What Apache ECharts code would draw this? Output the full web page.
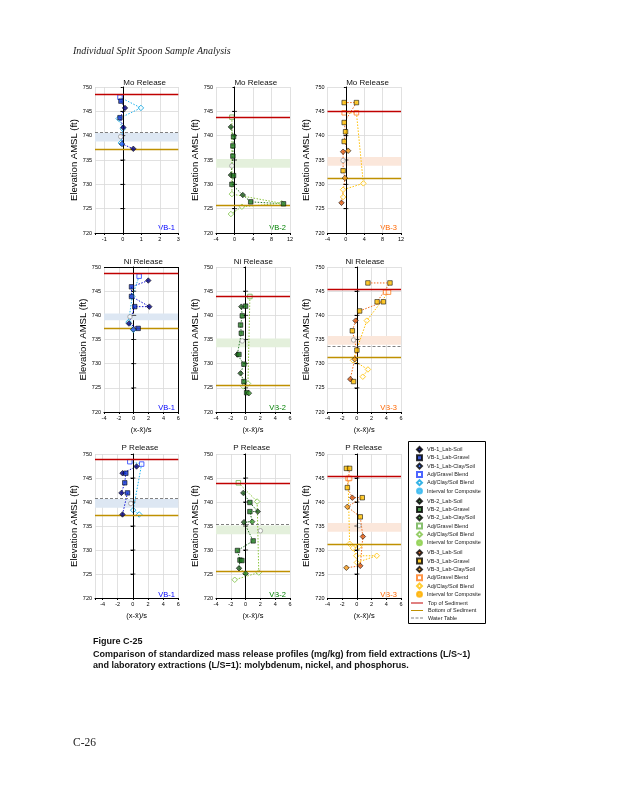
<!DOCTYPE html>
<html><head><meta charset="utf-8">
<script src="https://cdn.jsdelivr.net/npm/echarts/dist/echarts.min.js"></script>
<style>html,body{margin:0;padding:0;background:#fff}#c{width:618px;height:800px}</style>
</head><body><div id="c"></div>
<script>
// ---------- tick labels / axes ----------
const yTicks = [720, 725, 730, 735, 740, 745, 750];
const releaseNames = ['Mo Release', 'Ni Release', 'P Release'];
const wellNames = ['VB-1', 'VB-2', 'VB-3'];
const xMin  = [-1.5, -4, -4,  -4, -4, -4,  -5, -4, -4];
const xMax  = [3, 12, 12,  6, 6, 6,  6, 6, 6];
const xStep = [1, 4, 4,  2, 2, 2,  2, 2, 2];

// ---------- Mo ----------
const moVB1LabSoil   = [[0.12,745.7],[0.03,741.7],[0.57,737.3]];
const moVB1LabGravel = [[-0.10,747.1],[-0.15,743.7]];
const moVB1LabClay   = [[-0.04,738.3]];
const moVB1AdjGravel = [[-0.15,747.9]];
const moVB1AdjClay   = [[0.98,745.7],[-0.22,743.5],[0.0,741.4],[-0.1,738.5]];
const moVB1Comp      = [[-0.11,739.8]];

const moVB2LabSoil   = [[-0.78,741.8],[-0.78,731.9],[1.8,727.8]];
const moVB2LabGravel = [[-0.2,739.8],[-0.35,737.9],[-0.35,735.8],[-0.2,731.8],[-0.56,730.0],[3.5,726.4],[10.6,726.0]];
const moVB2LabClay   = [];
const moVB2AdjGravel = [[-0.56,743.8]];
const moVB2AdjClay   = [[-0.56,728.0],[10.2,726.1],[1.6,725.4],[-0.78,723.9]];
const moVB2Comp      = [[-0.56,733.8]];

const moVB3LabSoil   = [[-0.6,736.7],[-0.95,726.2]];
const moVB3LabGravel = [[-0.37,746.8],[2.3,746.8],[-0.37,742.7],[-0.07,740.8],[-0.37,738.8],[-0.6,732.8]];
const moVB3LabClay   = [[0.5,736.9],[-0.2,731.3]];
const moVB3AdjGravel = [[-0.37,744.7],[2.3,744.7]];
const moVB3AdjClay   = [[3.8,730.2],[-0.6,728.9],[-0.6,727.4]];
const moVB3Comp      = [[-0.6,734.9]];

// ---------- Ni ----------
const niVB1LabSoil   = [[1.96,747.2],[2.1,741.8],[-0.64,738.3]];
const niVB1LabGravel = [[-0.3,745.9],[-0.3,743.9],[0.14,741.8],[0.6,737.3]];
const niVB1LabClay   = [[-0.05,737.1]];
const niVB1AdjGravel = [[0.73,748.1]];
const niVB1AdjClay   = [[-0.2,743.9],[-0.7,738.6],[-0.05,737.0]];
const niVB1Comp      = [[-0.5,739.7]];

const niVB2LabSoil   = [[-0.58,741.8],[-1.12,731.9],[-0.68,728.0]];
const niVB2LabGravel = [[0.0,741.9],[-0.45,739.9],[-0.68,738.0],[-0.58,736.3],[-0.9,731.9],[-0.23,729.9],[-0.23,726.3],[0.14,724.0]];
const niVB2LabClay   = [[0.45,723.9]];
const niVB2AdjGravel = [[0.58,743.9]];
const niVB2AdjClay   = [[0.32,725.9],[-0.3,725.3]];
const niVB2Comp      = [[-0.45,734.7]];

const niVB3LabSoil   = [[-0.18,738.9],[-0.9,726.8]];
const niVB3LabGravel = [[1.5,746.7],[4.5,746.7],[2.75,742.8],[3.6,742.8],[0.37,740.9],[-0.62,736.8],[0.0,732.8],[-0.45,726.3]];
const niVB3LabClay   = [[-0.3,730.9]];
const niVB3AdjGravel = [[3.9,744.8],[4.3,744.8]];
const niVB3AdjClay   = [[1.35,738.9],[-0.54,730.7],[1.5,728.8],[0.8,727.3]];
const niVB3Comp      = [[-0.45,734.9]];

// ---------- P ----------
const pVB1LabSoil   = [[0.49,747.4],[-1.37,746.0],[-1.51,741.9],[-1.37,737.4]];
const pVB1LabGravel = [[-0.93,746.0],[-1.07,744.0],[-0.71,741.9]];
const pVB1LabClay   = [];
const pVB1AdjGravel = [[-0.4,748.4],[1.16,747.9]];
const pVB1AdjClay   = [[0.04,738.3],[0.84,737.4]];
const pVB1Comp      = [[-0.27,739.7]];

const pVB2LabSoil   = [[-0.31,741.9],[1.64,738.0],[-0.22,735.8],[-0.89,726.2]];
const pVB2LabGravel = [[0.58,739.9],[0.58,738.0],[1.02,731.9],[-1.1,729.9],[-0.76,727.9],[-0.5,727.8]];
const pVB2LabClay   = [[0.89,735.9],[0.0,725.1]];
const pVB2AdjGravel = [[-0.98,744.0]];
const pVB2AdjClay   = [[1.56,740.1],[1.78,725.3],[-1.47,723.8]];
const pVB2Comp      = [[2.0,734.0]];

const pVB3LabSoil   = [[-0.62,740.9],[0.81,732.8],[0.46,726.7]];
const pVB3LabGravel = [[-1.43,747.0],[-0.99,747.0],[-1.3,743.0],[0.73,740.9],[0.46,736.9]];
const pVB3LabClay   = [[-1.3,739.0],[-1.43,726.3]];
const pVB3AdjGravel = [[-1.2,744.9],[-1.0,744.9]];
const pVB3AdjClay   = [[-0.99,731.3],[-0.54,730.4],[0.27,730.7],[-0.08,728.8],[2.7,728.8],[0.0,727.4]];
const pVB3Comp      = [[0.27,735.1]];

// ---------- reference elevations (panel order Mo1..P3) ----------
const topLine    = [748.6, 743.8, 745.1, 748.7, 744.0, 745.4, 749.0, 743.9, 745.3];
const bottomLine = [737.3, 725.6, 731.3, 737.3, 725.6, 731.3, 737.3, 725.6, 731.2];
const dashLine   = [740.7, null, null, null, null, 733.7, 740.8, 735.3, null];
const bandLow    = [738.8, 733.4, 733.8, 739.0, 733.4, 733.9, 738.8, 733.3, 733.8];
const bandHigh   = [740.6, 735.2, 735.6, 740.4, 735.2, 735.7, 740.6, 735.1, 735.6];
const refNames   = ['Top of Sediment', 'Bottom of Sediment', 'Water Table'];

const panelData = [
  [moVB1LabSoil, moVB1LabGravel, moVB1LabClay, moVB1AdjGravel, moVB1AdjClay, moVB1Comp],
  [moVB2LabSoil, moVB2LabGravel, moVB2LabClay, moVB2AdjGravel, moVB2AdjClay, moVB2Comp],
  [moVB3LabSoil, moVB3LabGravel, moVB3LabClay, moVB3AdjGravel, moVB3AdjClay, moVB3Comp],
  [niVB1LabSoil, niVB1LabGravel, niVB1LabClay, niVB1AdjGravel, niVB1AdjClay, niVB1Comp],
  [niVB2LabSoil, niVB2LabGravel, niVB2LabClay, niVB2AdjGravel, niVB2AdjClay, niVB2Comp],
  [niVB3LabSoil, niVB3LabGravel, niVB3LabClay, niVB3AdjGravel, niVB3AdjClay, niVB3Comp],
  [pVB1LabSoil, pVB1LabGravel, pVB1LabClay, pVB1AdjGravel, pVB1AdjClay, pVB1Comp],
  [pVB2LabSoil, pVB2LabGravel, pVB2LabClay, pVB2AdjGravel, pVB2AdjClay, pVB2Comp],
  [pVB3LabSoil, pVB3LabGravel, pVB3LabClay, pVB3AdjGravel, pVB3AdjClay, pVB3Comp]
];

// ---------- layout & styles ----------
const gridLeft  = [95, 216, 327.5, 104, 216, 327.5, 95, 216, 327.5];
const colRight  = [178.3, 290, 401];
const rowTop    = [87, 267, 454];
const rowBottom = [233, 412, 598];
const nameGapY  = [16, 16, 15];
const titleX    = [[144.7, 255.8, 367.5], [143.3, 253.3, 365], [140, 251.7, 363.8]];
const titleY    = [82.7, 261.7, 447.7];
const vbLabelY  = [228, 407.5, 594.5];
const vbRight   = [175, 286, 397];

const styleSets = [
  { soil:'#000080', gravel:'#0a2fcf', clay:'#1f5fff', adjG:'#1f3fff', adjC:'#00a0e0', comp:'#33b8f0', labLine:'#1515d5', adjLine:'#20b4f0', band:'#dde7f3', label:'#0000ff' },
  { soil:'#1d5a1d', gravel:'#1f7a1f', clay:'#3c9a2e', adjG:'#6ab04c', adjC:'#7cc242', comp:'#8fd14f', labLine:'#2a7a2a', adjLine:'#8cc63f', band:'#e4f0dc', label:'#008000' },
  { soil:'#e05a10', gravel:'#ffc000', clay:'#f59a1a', adjG:'#ff7a1a', adjC:'#ffc000', comp:'#ffb000', labLine:'#f06a1a', adjLine:'#ffc000', band:'#fbe7db', label:'#ff6600' }
];
const kinds = [
  { sym:'diamond', size:5.5, open:false, key:'soil' },
  { sym:'rect',    size:4.5, open:false, key:'gravel' },
  { sym:'diamond', size:5.5, open:false, key:'clay' },
  { sym:'rect',    size:4.5, open:true,  key:'adjG' },
  { sym:'diamond', size:5.5, open:true,  key:'adjC' },
  { sym:'circle',  size:4.5, open:true,  key:'comp' }
];
const legendNames = [0, 1, 2].map(g => {
  const zw = '\u200b'.repeat(g);
  return ['VB-' + (g + 1) + '_Lab-Soil', 'VB-' + (g + 1) + '_Lab-Gravel', 'VB-' + (g + 1) + '_Lab-Clay/Soil',
          'Adj/Gravel Blend' + zw, 'Adj/Clay/Soil Blend' + zw, 'Interval for Composite' + zw];
});

const FONT = '"Liberation Sans", Arial, sans-serif';
const grids = [], xAxes = [], yAxes = [], series = [];
const refColors = ['#c00000', '#bf9000', '#808080'];

for (let i = 0; i < 9; i++) {
  const r = Math.floor(i / 3), c = i % 3, st = styleSets[c];
  grids.push({ left: gridLeft[i], top: rowTop[r], width: colRight[c] - gridLeft[i], height: rowBottom[r] - rowTop[r], outerBoundsMode: 'none' });
  const step = xStep[i];
  const aligned = Math.abs(xMin[i] / step - Math.round(xMin[i] / step)) < 1e-9;
  xAxes.push({
    gridIndex: i, type: 'value', min: xMin[i], max: xMax[i],
    interval: aligned ? step : undefined, splitNumber: aligned ? undefined : 5,
    axisLine: { show: true, onZero: false, lineStyle: { color: '#000', width: 1 } },
    axisTick: { show: true, length: 2, lineStyle: { color: '#000' } },
    axisLabel: { fontSize: 5.5, color: '#000', fontFamily: FONT, margin: 3, showMinLabel: true, showMaxLabel: true,
      formatter: v => (Math.abs(v / step - Math.round(v / step)) < 1e-6 ? String(Math.round(v)) : '') },
    splitLine: { show: true, lineStyle: { color: '#d9d9d9', width: 0.8 } },
    name: r === 0 ? '' : '(x-x\u0304)/s', nameLocation: 'middle', nameGap: 14,
    nameTextStyle: { fontSize: 7.5, color: '#000', fontFamily: FONT }
  });
  yAxes.push({
    gridIndex: i, type: 'value', min: 720, max: 750, interval: 5,
    axisLine: { show: true, lineStyle: { color: '#000', width: 1 } },
    axisTick: { show: true, length: 2, lineStyle: { color: '#000' } },
    axisLabel: { fontSize: 5.5, color: '#000', fontFamily: FONT, margin: 3 },
    splitLine: { show: true, lineStyle: { color: '#d9d9d9', width: 0.8 } },
    name: 'Elevation AMSL (ft)', nameLocation: 'middle', nameGap: nameGapY[c],
    nameTextStyle: { fontSize: 9.5, color: '#000', fontFamily: FONT }
  });

  // band + zero line
  const zeroLines = i === 3 ? [{ yAxis: 750 }, { xAxis: 6 }] : [{ xAxis: 0 }];
  series.push({
    type: 'line', name: 'band' + i, xAxisIndex: i, yAxisIndex: i, data: [], z: 1,
    markArea: { silent: true, itemStyle: { color: st.band }, data: [[{ yAxis: bandLow[i] }, { yAxis: bandHigh[i] }]] },
    markLine: { silent: true, symbol: ['none', 'none'], label: { show: false }, animation: false,
      lineStyle: { color: '#000', width: 1, type: 'solid' }, data: zeroLines }
  });
  // zero-line cross ticks
  series.push({
    type: 'scatter', name: 'ticks' + i, xAxisIndex: i, yAxisIndex: i, z: 3, silent: true,
    data: yTicks.slice(1, -1).map(v => [0, v]), symbol: 'rect', symbolSize: [5, 0.9], itemStyle: { color: '#000' }
  });
  // reference lines
  const refVals = [topLine[i], bottomLine[i], dashLine[i]];
  for (let k = 0; k < 3; k++) {
    series.push({
      type: 'line', name: refNames[k], xAxisIndex: i, yAxisIndex: i, data: [], z: 2, symbol: 'none',
      color: refColors[k], itemStyle: { color: refColors[k] },
      lineStyle: { color: refColors[k], width: k === 2 ? 1 : 1.3, type: k === 2 ? 'dashed' : 'solid' },
      markLine: refVals[k] == null ? undefined : { silent: true, symbol: ['none', 'none'], label: { show: false }, animation: false,
        lineStyle: { color: refColors[k], width: k === 2 ? 1 : 1.3, type: k === 2 ? [3, 2] : 'solid' }, data: [{ yAxis: refVals[k] }] }
    });
  }
  // connecting profile lines
  const pd = panelData[i];
  const labPts = [].concat(pd[0], pd[1], pd[2]).sort((a, b) => b[1] - a[1]);
  const adjPts = [].concat(pd[3], pd[4]).sort((a, b) => b[1] - a[1]);
  series.push({ type: 'line', name: 'lab' + i, xAxisIndex: i, yAxisIndex: i, data: labPts, symbol: 'none', z: 3, silent: true,
    lineStyle: { color: st.labLine, width: 1, type: [1.5, 1.5] } });
  series.push({ type: 'line', name: 'adj' + i, xAxisIndex: i, yAxisIndex: i, data: adjPts, symbol: 'none', z: 3, silent: true,
    lineStyle: { color: st.adjLine, width: 1, type: [1.5, 1.5] } });
  // markers
  kinds.forEach((kd, k) => {
    const isComp = kd.key === 'comp';
    series.push({
      type: 'scatter', name: legendNames[c][k], xAxisIndex: i, yAxisIndex: i, data: pd[k], z: 4 + (kd.open ? 0 : 1), silent: true,
      symbol: kd.sym, symbolSize: kd.size,
      itemStyle: kd.open
        ? { color: '#fff', borderColor: isComp ? '#9a9a9a' : st[kd.key], borderWidth: 1 }
        : { color: st[kd.key], borderColor: '#000', borderWidth: 0.7 }
    });
  });
}

// ---------- legend ----------
const legTop = [446, 497.7, 549.3];
const legends = [0, 1, 2].map(g => ({
  orient: 'vertical', left: 416, top: legTop[g], itemWidth: 5, itemHeight: 5, itemGap: 1.3, selectedMode: false, padding: 0,
  textStyle: { fontSize: 5.5, lineHeight: 6, color: '#222', fontFamily: FONT },
  data: legendNames[g].map((n, k) => k === 5
    ? { name: n, itemStyle: { color: styleSets[g].comp, borderColor: styleSets[g].comp } }
    : { name: n })
}));
const lineIcons = ['path://M0,0h12v1h-12z', 'path://M0,0h12v1h-12z', 'path://M0,0h3v1h-3zM4.5,0h3v1h-3zM9,0h3v1h-3z'];
legends.push({
  orient: 'vertical', left: 411, top: 600, itemWidth: 12, itemHeight: 1.3, itemGap: 1.5, selectedMode: false, padding: 0,
  textStyle: { fontSize: 5.5, lineHeight: 6, color: '#222', fontFamily: FONT },
  data: refNames.map((n, k) => ({ name: n, icon: lineIcons[k], itemStyle: { color: refColors[k] } }))
});

// ---------- free texts ----------
const graphics = [];
function txt(x, y, text, font, fill, align) {
  graphics.push({ type: 'text', x: x, y: y, silent: true,
    style: { text: text, font: font, fill: fill || '#000', align: align || 'left', textAlign: align || 'left', verticalAlign: 'middle', textVerticalAlign: 'middle' } });
}
txt(73, 51, 'Individual Split Spoon Sample Analysis', 'italic 10px "Liberation Serif", serif', '#222');
for (let r = 0; r < 3; r++) {
  for (let c = 0; c < 3; c++) {
    txt(titleX[r][c], titleY[r], releaseNames[r], '8px ' + FONT, '#111', 'center');
    txt(vbRight[c], vbLabelY[r], wellNames[c], '7.5px ' + FONT, styleSets[c].label, 'right');
  }
}
txt(93, 642, 'Figure C-25', 'bold 9px ' + FONT, '#111');
txt(93, 654.5, 'Comparison of standardized mass release profiles (mg/kg) from field extractions (L/S~1)', 'bold 9px ' + FONT, '#111');
txt(93, 666, 'and laboratory extractions (L/S=1): molybdenum, nickel, and phosphorus.', 'bold 9px ' + FONT, '#111');
txt(73, 743, 'C-26', '11.5px "Liberation Serif", serif', '#222');
graphics.push({ type: 'rect', silent: true, shape: { x: 408.5, y: 441.5, width: 77, height: 182 },
  style: { fill: 'none', stroke: '#000', lineWidth: 1 } });

const chart = echarts.init(document.getElementById('c'), null, { renderer: 'canvas', width: 618, height: 800 });
chart.setOption({
  animation: false,
  backgroundColor: '#fff',
  grid: grids, xAxis: xAxes, yAxis: yAxes,
  legend: legends,
  series: series,
  graphic: graphics
});
</script>
</body></html>
